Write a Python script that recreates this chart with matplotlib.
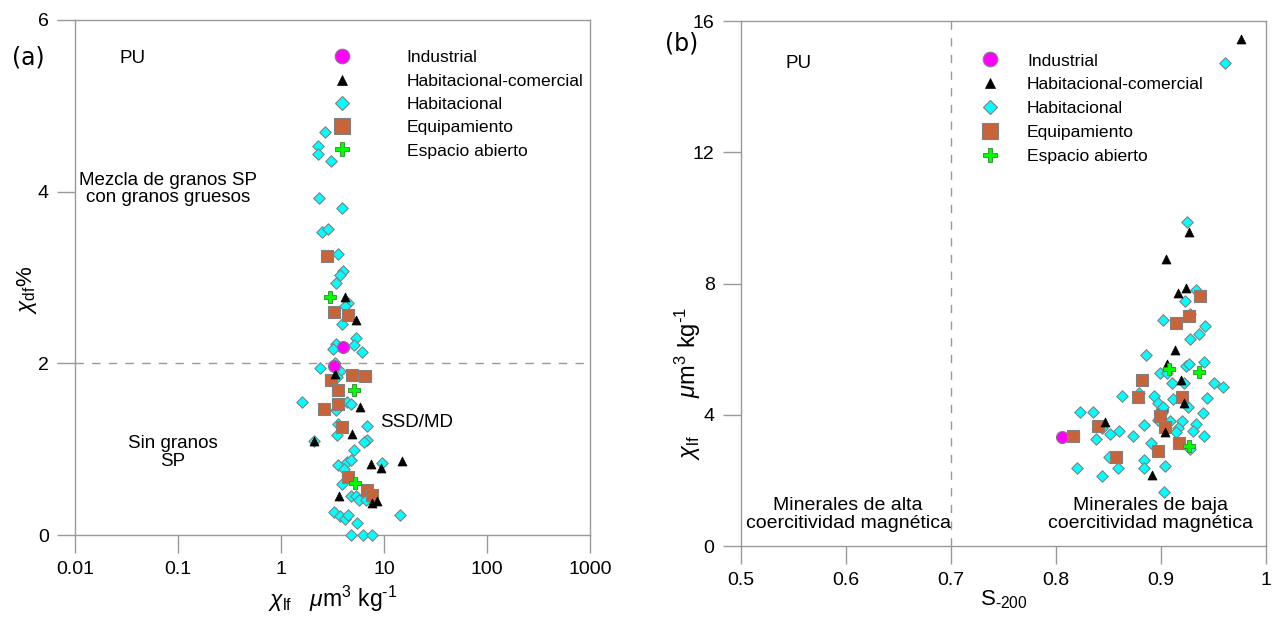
import matplotlib
matplotlib.use("Agg")
import matplotlib.pyplot as plt
from matplotlib.lines import Line2D

plt.rcParams['font.family'] = ['Liberation Sans', 'DejaVu Sans']
plt.rcParams['mathtext.fontset'] = 'custom'
plt.rcParams['mathtext.rm'] = 'Liberation Sans'
plt.rcParams['mathtext.it'] = 'Liberation Sans:italic'
plt.rcParams['mathtext.sf'] = 'Liberation Sans'

# ---------------- Panel (a): chi_lf vs chi_df% ----------------
a_ind_x = [4.04, 3.28]
a_ind_y = [2.19, 1.97]

a_hc_x = [4.22, 5.35, 3.35, 5.81, 4.86, 2.08, 7.42, 9.27, 14.9, 8.48, 7.59, 3.64]
a_hc_y = [2.77, 2.50, 1.88, 1.49, 1.18, 1.09, 0.83, 0.78, 0.86, 0.40, 0.37, 0.45]

a_hab_x = [2.66, 2.30, 2.28, 3.05, 2.33, 3.92, 2.51, 2.87, 3.58, 4.01, 3.72, 3.38,
           4.48, 4.22, 3.95, 5.35, 3.43, 3.23, 5.08, 6.17, 3.33, 2.38, 3.70, 3.48,
           1.61, 4.35, 4.82, 3.40, 3.58, 6.83, 3.48, 6.83, 6.44, 2.08, 5.08, 3.58,
           4.38, 4.82, 4.13, 4.42, 3.95, 9.62, 7.26, 4.82, 5.35, 5.72, 6.68, 3.26,
           3.70, 4.16, 4.45, 5.47, 14.3, 4.75, 6.31, 7.59]
a_hab_y = [4.69, 4.53, 4.44, 4.36, 3.93, 3.81, 3.53, 3.57, 3.27, 3.08, 3.03, 2.94,
           2.70, 2.67, 2.46, 2.29, 2.23, 2.17, 2.21, 2.13, 2.00, 1.95, 1.91, 1.84,
           1.55, 1.55, 1.53, 1.46, 1.29, 1.27, 1.17, 1.11, 1.08, 1.09, 0.99, 0.81,
           0.85, 0.87, 0.77, 0.68, 0.60, 0.84, 0.49, 0.45, 0.45, 0.41, 0.41, 0.27,
           0.22, 0.19, 0.23, 0.14, 0.23, 0.00, 0.00, 0.00]

a_equ_x = [2.81, 3.28, 4.45, 4.93, 6.53, 3.07, 3.56, 3.56, 2.64, 3.87, 4.42, 6.83, 7.60]
a_equ_y = [3.25, 2.60, 2.56, 1.86, 1.85, 1.80, 1.69, 1.53, 1.47, 1.26, 0.68, 0.52, 0.47]

a_esp_x = [2.96, 5.12, 5.20]
a_esp_y = [2.77, 1.69, 0.61]

# ---------------- Panel (b): S-200 vs chi_lf ----------------
b_ind_x = [0.806, 0.901]
b_ind_y = [3.32, 4.15]

b_hc_x = [0.976, 0.927, 0.905, 0.916, 0.924, 0.913, 0.906, 0.919, 0.922, 0.847, 0.904, 0.891]
b_hc_y = [15.46, 9.57, 8.75, 7.72, 7.85, 5.98, 5.54, 5.06, 4.37, 3.79, 3.49, 2.16]

b_hab_x = [0.961, 0.925, 0.933, 0.923, 0.928, 0.902, 0.942, 0.936, 0.928, 0.886,
           0.924, 0.927, 0.941, 0.899, 0.906, 0.910, 0.922, 0.950, 0.959, 0.863,
           0.879, 0.893, 0.911, 0.944, 0.926, 0.897, 0.902, 0.940, 0.823, 0.835,
           0.897, 0.909, 0.920, 0.884, 0.844, 0.933, 0.916, 0.914, 0.930, 0.860,
           0.851, 0.941, 0.873, 0.838, 0.890, 0.928, 0.850, 0.884, 0.904, 0.820,
           0.859, 0.884, 0.844, 0.903]
b_hab_y = [14.72, 9.89, 7.80, 7.48, 7.06, 6.89, 6.70, 6.47, 6.30, 5.81,
           5.49, 5.54, 5.62, 5.28, 5.26, 4.97, 4.96, 4.97, 4.86, 4.58,
           4.65, 4.58, 4.49, 4.52, 4.25, 4.37, 4.25, 4.04, 4.07, 4.07,
           3.84, 3.82, 3.82, 3.69, 3.59, 3.71, 3.59, 3.49, 3.50, 3.52,
           3.40, 3.35, 3.34, 3.26, 3.15, 2.97, 2.72, 2.61, 2.45, 2.37,
           2.39, 2.37, 2.13, 1.66]

b_equ_x = [0.937, 0.927, 0.914, 0.882, 0.878, 0.920, 0.899, 0.840, 0.904, 0.816, 0.917, 0.897, 0.857]
b_equ_y = [7.63, 7.01, 6.79, 5.06, 4.55, 4.55, 3.97, 3.66, 3.64, 3.35, 3.14, 2.91, 2.70]

b_esp_x = [0.908, 0.936, 0.927]
b_esp_y = [5.39, 5.29, 3.06]

legend_labels = ['Industrial', 'Habitacional-comercial', 'Habitacional',
                 'Equipamiento', 'Espacio abierto']

GRAY = '#999999'
EDGE = '#808080'
C_IND = '#FF00FF'
C_HAB = '#00FFFF'
C_EQU = '#C8643A'
C_ESP = '#00FF00'

styles = [
    dict(marker='o', s=75, c=C_IND, edgecolors=EDGE, linewidths=0.8),
    dict(marker='^', s=42, c='black', edgecolors='black', linewidths=0.5),
    dict(marker='D', s=34, c=C_HAB, edgecolors=EDGE, linewidths=0.8),
    dict(marker='s', s=85, c=C_EQU, edgecolors=EDGE, linewidths=0.8),
    dict(marker='P', s=80, c=C_ESP, edgecolors='#2E8B2E', linewidths=0.6),
]

fig = plt.figure(figsize=(12.76, 6.19), dpi=100)
axa = fig.add_axes([0.0588, 0.1357, 0.4036, 0.832])
axb = fig.add_axes([0.5807, 0.1179, 0.4115, 0.848])


def style_axes(ax):
    for sp in ax.spines.values():
        sp.set_color(GRAY)
        sp.set_linewidth(1.0)
    ax.tick_params(axis='both', which='major', direction='out', length=13,
                   width=1.0, color=GRAY, labelsize=14, pad=6)
    ax.tick_params(axis='both', which='minor', length=0)


LBL = r'$\chi_{\mathrm{lf}}$   $\mu$m$^3$ kg$^{\text{-1}}$'

# Panel (a)
dsets_a = [(a_ind_x, a_ind_y), (a_hc_x, a_hc_y), (a_hab_x, a_hab_y),
           (a_equ_x, a_equ_y), (a_esp_x, a_esp_y)]
zord_a = {0: 5, 1: 5, 2: 3, 3: 4, 4: 6}
for i in [2, 3, 0, 1, 4]:
    x, y = dsets_a[i]
    axa.scatter(x, y, zorder=zord_a[i], clip_on=False, **styles[i])
axa.set_xscale('log')
axa.set_xlim(0.01, 1000)
axa.set_ylim(0, 6)
axa.set_xticks([0.01, 0.1, 1, 10, 100, 1000])
axa.set_xticklabels(['0.01', '0.1', '1', '10', '100', '1000'])
axa.set_yticks([0, 2, 4, 6])
axa.axhline(2, color=GRAY, lw=1.0, dashes=(6, 6), zorder=1)
style_axes(axa)
axa.set_xlabel(LBL, fontsize=16.5)
axa.xaxis.set_label_coords(0.5, -0.094)
axa.set_ylabel(r'$\chi_{\mathrm{df}}$%', fontsize=16)
axa.yaxis.set_label_coords(-0.07, 0.476)

axa.text(0.087, 0.925, 'PU', transform=axa.transAxes, fontsize=13.5, va='center', ha='left')
axa.text(0.18, 0.672, 'Mezcla de granos SP\ncon granos gruesos', transform=axa.transAxes,
         fontsize=13.5, ha='center', va='center', linespacing=1.0)
axa.text(0.19, 0.16, 'Sin granos\nSP', transform=axa.transAxes,
         fontsize=13.5, ha='center', va='center', linespacing=1.05)
axa.text(0.664, 0.219, 'SSD/MD', transform=axa.transAxes, fontsize=13.5,
         ha='center', va='center')
fig.text(28 / 1276, 1 - 57 / 619, '(a)', fontsize=17, family='DejaVu Sans',
         ha='center', va='center')

# Panel (b)
dsets_b = [(b_ind_x, b_ind_y), (b_hc_x, b_hc_y), (b_hab_x, b_hab_y),
           (b_equ_x, b_equ_y), (b_esp_x, b_esp_y)]
zord_b = {0: 2.5, 1: 5, 2: 3, 3: 4, 4: 6}
for i in [0, 2, 3, 1, 4]:
    x, y = dsets_b[i]
    axb.scatter(x, y, zorder=zord_b[i], clip_on=False, **styles[i])
axb.set_xlim(0.5, 1.0)
axb.set_ylim(0, 16)
axb.set_xticks([0.5, 0.6, 0.7, 0.8, 0.9, 1.0])
axb.set_xticklabels(['0.5', '0.6', '0.7', '0.8', '0.9', '1'])
axb.set_yticks([0, 4, 8, 12, 16])
axb.axvline(0.7, color=GRAY, lw=1.0, dashes=(6, 6), zorder=1)
style_axes(axb)
axb.set_xlabel(r'S$_{\text{-200}}$', fontsize=16)
axb.xaxis.set_label_coords(0.5, -0.08)
axb.set_ylabel(r'$\chi_{\mathrm{lf}}$      $\mu$m$^3$ kg$^{\text{-1}}$', fontsize=17)
axb.yaxis.set_label_coords(-0.073, 0.31)

axb.text(0.084, 0.92, 'PU', transform=axb.transAxes, fontsize=13.5, va='center', ha='left')
axb.text(0.204, 0.06, 'Minerales de alta\ncoercitividad magnética', transform=axb.transAxes,
         fontsize=14, ha='center', va='center', linespacing=1.05)
axb.text(0.779, 0.06, 'Minerales de baja\ncoercitividad magnética', transform=axb.transAxes,
         fontsize=14, ha='center', va='center', linespacing=1.05)
fig.text(682 / 1276, 1 - 43 / 619, '(b)', fontsize=17, family='DejaVu Sans',
         ha='center', va='center')


# Legends
def legend_handles():
    hs = []
    msizes = [10.5, 7, 7, 11.5, 10]
    for st, ms in zip(styles, msizes):
        hs.append(Line2D([], [], linestyle='none', marker=st['marker'],
                         markerfacecolor=st['c'], markeredgecolor=st['edgecolors'],
                         markeredgewidth=st['linewidths'], markersize=ms))
    return hs


axa.legend(legend_handles(), legend_labels, loc='upper left',
           bbox_to_anchor=(0.471, 0.955), frameon=False, fontsize=12.6,
           handletextpad=2.7, labelspacing=0.46, borderaxespad=0.0)
axb.legend(legend_handles(), legend_labels, loc='upper left',
           bbox_to_anchor=(0.428, 0.952), frameon=False, fontsize=12.6,
           handletextpad=1.1, labelspacing=0.49, borderaxespad=0.0)

fig.savefig('out.png', dpi=100)
